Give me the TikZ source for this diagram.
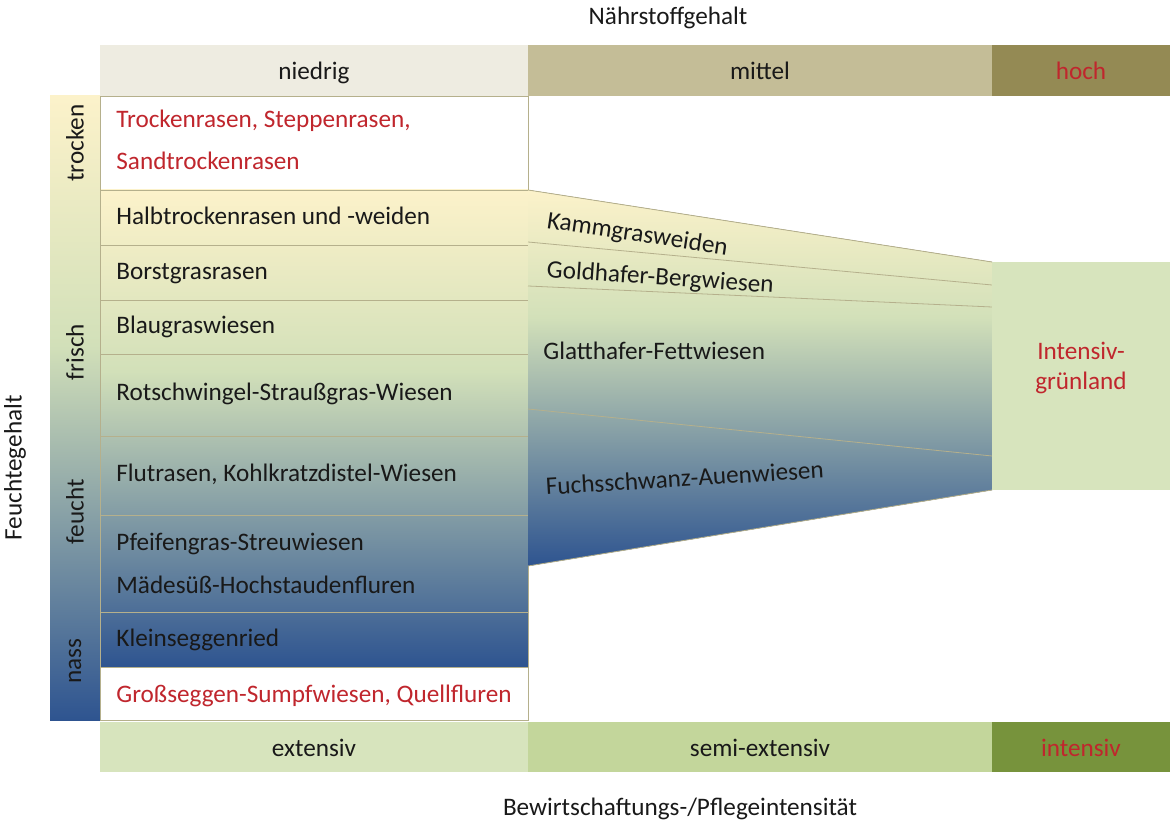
\documentclass[tikz,border=0pt]{standalone}
\usepackage{fontspec}
\setmainfont{Carlito}
\usetikzlibrary{positioning}
\definecolor{hdrlow}{HTML}{EEECE1}
\definecolor{hdrmid}{HTML}{C4BD97}
\definecolor{hdrhigh}{HTML}{948A54}
\definecolor{uselow}{HTML}{D7E4BD}
\definecolor{usemid}{HTML}{C3D69B}
\definecolor{usehigh}{HTML}{77933C}
\definecolor{dryyel}{HTML}{FCF2CA}
\definecolor{freshgrn}{HTML}{D2E0B9}
\definecolor{wetblue}{HTML}{2E5490}
\definecolor{txtred}{HTML}{C0262D}
\definecolor{rulecol}{HTML}{B5B08C}
%% moisture gradients (25bp..75bp = path height)
\pgfdeclareverticalshading{moisttab}{100bp}{color(0bp)=(wetblue); color(25bp)=(wetblue); color(56bp)=(freshgrn); color(75bp)=(dryyel); color(100bp)=(dryyel)}
\pgfdeclareverticalshading{moisttrap}{100bp}{color(0bp)=(wetblue); color(25bp)=(wetblue); color(58bp)=(freshgrn); color(75bp)=(dryyel); color(100bp)=(dryyel)}
\pgfdeclareverticalshading{moistbar}{100bp}{color(0bp)=(wetblue); color(25bp)=(wetblue); color(55bp)=(freshgrn); color(75bp)=(dryyel); color(100bp)=(dryyel)}

\begin{document}
\begin{tikzpicture}[x=0.5pt,y=-0.5pt,
    txt/.style={font=\fontsize{12.6}{15}\selectfont,text=black!90,inner sep=0pt},
    rowtxt/.style={txt,anchor=base west},
    redtxt/.style={text=txtred},
    hdrtxt/.style={txt,anchor=base},
    sidetxt/.style={txt,rotate=90}]
\useasboundingbox (0,0) rectangle (1173,828);

%% axis titles
\node[hdrtxt] (naehr) at (668,25) {Nährstoffgehalt};
\node[hdrtxt] (bewirt) at (680,815) {Bewirtschaftungs-/Pflegeintensität};
\node[sidetxt] (feuchte) at (15,468) {Feuchtegehalt};

%% upper bar
\fill[hdrlow] (100,45) rectangle (528,96);
\fill[hdrmid] (528,45) rectangle (992,96);
\fill[hdrhigh] (992,45) rectangle (1170,96);
\node[hdrtxt] (niedrig) at (314,80) {niedrig};
\node[hdrtxt] (mittel) at (760,80) {mittel};
\node[hdrtxt,redtxt] (hoch) at (1081,80) {hoch};

%% lower bar
\fill[uselow] (100,722) rectangle (528,772);
\fill[usemid] (528,722) rectangle (992,772);
\fill[usehigh] (992,722) rectangle (1170,772);
\node[hdrtxt] (extensiv) at (314,756) {extensiv};
\node[hdrtxt] (semi) at (760,756) {semi-extensiv};
\node[hdrtxt,redtxt] (intensiv) at (1081,756) {intensiv};

%% moisture bar
\fill[shading=moistbar] (50,96) rectangle (100,720);
\node[sidetxt] (trocken) at (75,143) {trocken};
\node[sidetxt] (frisch) at (75,352) {frisch};
\node[sidetxt] (feucht) at (75,512) {feucht};
\node[sidetxt] (nass) at (75,661) {nass};

%% left table
\fill[white] (100,96) rectangle (528,720);
\fill[shading=moisttab] (100,190) rectangle (528,667);
\foreach \y in {190,245,300,354,436,515,612,667}{
  \draw[rulecol] (100,\y) -- (528,\y);
}
\draw[rulecol] (100,96) rectangle (528,720);
\node[rowtxt,redtxt] (trockenrasen) at (116,128) {Trockenrasen, Steppenrasen,};
\node[rowtxt,redtxt] (sandtrocken) at (116,170) {Sandtrockenrasen};
\node[rowtxt] (halbtrocken) at (116,225) {Halbtrockenrasen und -weiden};
\node[rowtxt] (borstgras) at (116,280) {Borstgrasrasen};
\node[rowtxt] (blaugras) at (116,334) {Blaugraswiesen};
\node[rowtxt] (rotschwingel) at (116,401) {Rotschwingel-Straußgras-Wiesen};
\node[rowtxt] (flutrasen) at (116,482) {Flutrasen, Kohlkratzdistel-Wiesen};
\node[rowtxt] (pfeifengras) at (116,551) {Pfeifengras-Streuwiesen};
\node[rowtxt] (maedesuess) at (116,593) {Mädesüß-Hochstaudenfluren};
\node[rowtxt] (kleinseggen) at (116,646) {Kleinseggenried};
\node[rowtxt,redtxt] (grossseggen) at (116,702) {Großseggen-Sumpfwiesen, Quellfluren};

%% middle wedge
\fill[shading=moisttrap] (528,190) -- (992,262) -- (992,490) -- (528,566) -- cycle;
\draw[rulecol] (528,242) -- (992,285);
\draw[rulecol] (528,286) -- (992,307);
\draw[rulecol] (528,409) -- (992,456);
\draw[rulecol] (528,190) -- (992,262) (528,566) -- (992,490);
\node[rowtxt,rotate=-8.5] (kammgras) at (546,228) {Kammgrasweiden};
\node[rowtxt,rotate=-4] (goldhafer) at (546,277) {Goldhafer-Bergwiesen};
\node[rowtxt] (glatthafer) at (543,360) {Glatthafer-Fettwiesen};
\node[rowtxt,rotate=3.5] (fuchsschwanz) at (546,495) {Fuchsschwanz-Auenwiesen};

%% intensive grassland
\fill[uselow] (992,262) rectangle (1170,490);
\node[hdrtxt,redtxt] (intensiv1) at (1081,360) {Intensiv-};
\node[hdrtxt,redtxt] (intensiv2) at (1081,390) {grünland};
\end{tikzpicture}
\end{document}
